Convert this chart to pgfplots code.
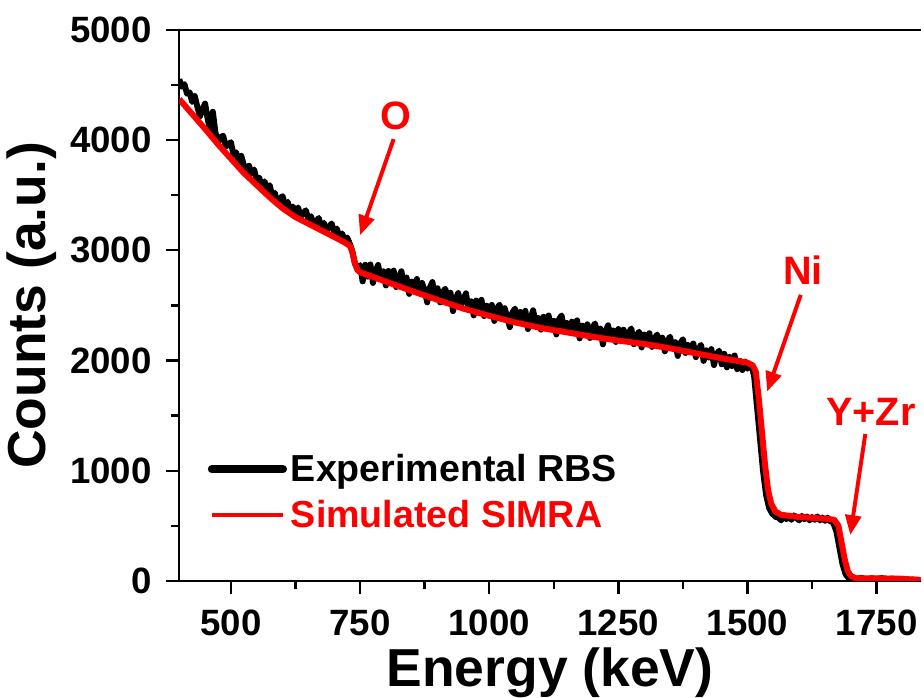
\documentclass[border=0pt]{standalone}
\usepackage{pgfplots}
\pgfplotsset{compat=1.18}
\usepackage{fontspec}
\setmainfont{Liberation Sans}
\usetikzlibrary{arrows.meta}

\pgfplotstableread{
x y
400 4550
405 4483
410 4506
415 4419
420 4432
425 4345
430 4398
435 4301
440 4214
445 4277
450 4330
455 4192
460 4084
465 4256
470 4068
475 3980
480 4024
485 4038
490 3942
495 3956
500 3980
505 3864
510 3888
515 3792
520 3856
525 3770
530 3698
535 3766
540 3694
545 3732
550 3630
555 3658
560 3566
565 3624
570 3552
575 3590
580 3490
585 3520
590 3420
595 3470
600 3490
605 3404
610 3438
615 3352
620 3396
625 3340
630 3388
635 3306
640 3334
645 3362
650 3280
655 3308
660 3226
665 3264
670 3292
675 3210
680 3248
685 3176
690 3214
695 3242
700 3160
705 3197
710 3115
715 3152
720 3100
725 3115
730 3060
735 2990
740 2880
745 2830
750 2865
755 2717
760 2868
765 2760
770 2871
775 2703
780 2814
785 2866
790 2737
795 2809
800 2680
805 2812
810 2723
815 2815
820 2666
825 2758
830 2809
835 2681
840 2752
845 2604
850 2715
855 2647
860 2739
865 2611
870 2703
875 2635
880 2527
885 2659
890 2711
895 2583
900 2655
905 2527
910 2619
915 2651
920 2523
925 2615
930 2447
935 2559
940 2611
945 2503
950 2555
955 2609
960 2462
965 2536
970 2409
975 2543
980 2476
985 2550
990 2403
995 2497
1000 2430
1005 2504
1010 2358
1015 2472
1020 2506
1025 2380
1030 2474
1035 2388
1040 2302
1045 2436
1050 2470
1055 2345
1060 2440
1065 2375
1070 2450
1075 2285
1080 2380
1085 2455
1090 2330
1095 2385
1100 2280
1105 2396
1110 2332
1115 2408
1120 2284
1125 2360
1130 2236
1135 2372
1140 2408
1145 2284
1150 2340
1155 2256
1160 2352
1165 2288
1170 2364
1175 2200
1180 2316
1185 2252
1190 2328
1195 2204
1200 2300
1205 2336
1210 2213
1215 2289
1220 2146
1225 2262
1230 2319
1235 2215
1240 2272
1245 2168
1250 2285
1255 2202
1260 2279
1265 2176
1270 2253
1275 2290
1280 2147
1285 2224
1290 2261
1295 2118
1300 2235
1305 2171
1310 2247
1315 2123
1320 2199
1325 2235
1330 2131
1335 2207
1340 2083
1345 2179
1350 2215
1355 2110
1360 2166
1365 2041
1370 2157
1375 2192
1380 2068
1385 2143
1390 2099
1395 2154
1400 2030
1405 2105
1410 2141
1415 1996
1420 2092
1425 2027
1430 2103
1435 1958
1440 2054
1445 2089
1450 1965
1455 2061
1460 1937
1465 2033
1470 1949
1475 2045
1480 1921
1485 1997
1490 1913
1495 1989
1500 1925
1505 1960
1510 1915
1513 1850
1518 1600
1524 1300
1530 1000
1536 780
1542 660
1548 610
1555 580
1560 575
1565 550
1570 600
1575 560
1580 590
1585 555
1590 595
1595 570
1600 550
1605 590
1610 560
1615 585
1620 550
1625 580
1630 555
1635 585
1640 550
1645 575
1650 545
1655 575
1660 540
1665 540
1672 450
1678 300
1684 150
1690 60
1696 25
1700 30
1710 18
1720 28
1730 15
1740 25
1750 18
1760 26
1770 15
1780 22
1790 14
1800 20
1810 10
1820 12
1835 5
}\expdata

\pgfplotstableread{
x y
400 4370
425 4235
450 4100
475 3960
500 3830
525 3700
550 3590
575 3480
600 3380
625 3300
650 3240
675 3180
700 3120
720 3070
730 3040
735 2985
740 2880
745 2820
750 2800
800 2715
850 2630
900 2550
950 2470
1000 2405
1050 2345
1100 2295
1150 2255
1200 2215
1250 2180
1300 2150
1350 2110
1400 2065
1450 2020
1500 1980
1510 1955
1516 1900
1522 1650
1528 1350
1534 1050
1540 820
1546 700
1554 630
1565 600
1600 580
1650 565
1668 555
1676 500
1682 350
1688 200
1694 90
1700 45
1710 25
1790 22
1835 10
}\simdata

\begin{document}
\begin{tikzpicture}
\begin{axis}[
  scale only axis,
  width=374.5pt, height=278.5pt,
  xmin=400, xmax=1835,
  ymin=0, ymax=5000,
  axis x line*=box, axis y line*=left,
  x axis line style={-}, y axis line style={-},
  xtick pos=bottom, ytick pos=left,
  xtick={500,750,1000,1250,1500,1750},
  ytick={0,1000,2000,3000,4000,5000},
  minor x tick num=1, minor y tick num=1,
  tick align=outside,
  major tick length=6.5pt, minor tick length=4pt,
  axis line style={line width=1.2pt},
  every tick/.style={black, line width=1.2pt},
  /pgf/number format/1000 sep={},
  /pgf/number format/assume math mode=true,
  tick label style={font=\fontsize{18.5}{22}\selectfont\bfseries},
  xticklabel style={yshift=-4.5pt},
  yticklabel style={xshift=-4pt},
  xlabel={Energy (keV)},
  ylabel={Counts (a.u.)},
  label style={font=\fontsize{27}{32}\selectfont\bfseries},
  xlabel style={inner sep=0pt, yshift=-2.5pt},
  legend image code/.code={\draw[#1] (0pt,0pt) -- (36pt,0pt);},
  legend style={draw=none, fill=none, at={(0.03,0.245)}, anchor=north west,
    font=\fontsize{19}{22}\selectfont\bfseries, row sep=4pt,
    cells={anchor=west}},
  clip=true,
]
\addplot[black, line width=3pt, line join=round, legend image post style={line width=4pt, line cap=round}] table[x=x,y=y] {\expdata};
\addlegendentry{Experimental RBS}
\addplot[red, line width=3pt, line join=round, legend image post style={line width=2pt}] table[x=x,y=y] {\simdata};
\addlegendentry{\textcolor{red}{Simulated SIMRA}}

\node[text=red, font=\fontsize{20}{24}\selectfont\bfseries] at (axis cs:819,4218) {O};
\draw[red, line width=2pt, -{Triangle[length=10pt,width=8pt]}] (axis cs:815,4008) -- (axis cs:750,3136);
\node[text=red, font=\fontsize{20}{24}\selectfont\bfseries] at (axis cs:1607,2818) {Ni};
\draw[red, line width=2pt, -{Triangle[length=10pt,width=8pt]}] (axis cs:1603,2595) -- (axis cs:1538,1718);
\node[text=red, font=\fontsize{20}{24}\selectfont\bfseries] at (axis cs:1739,1537) {Y+Zr};
\draw[red, line width=2pt, -{Triangle[length=10pt,width=8pt]}] (axis cs:1728,1333) -- (axis cs:1699,417);
\end{axis}
\path (current axis.north) ++(0,15pt);
\end{tikzpicture}
\end{document}
